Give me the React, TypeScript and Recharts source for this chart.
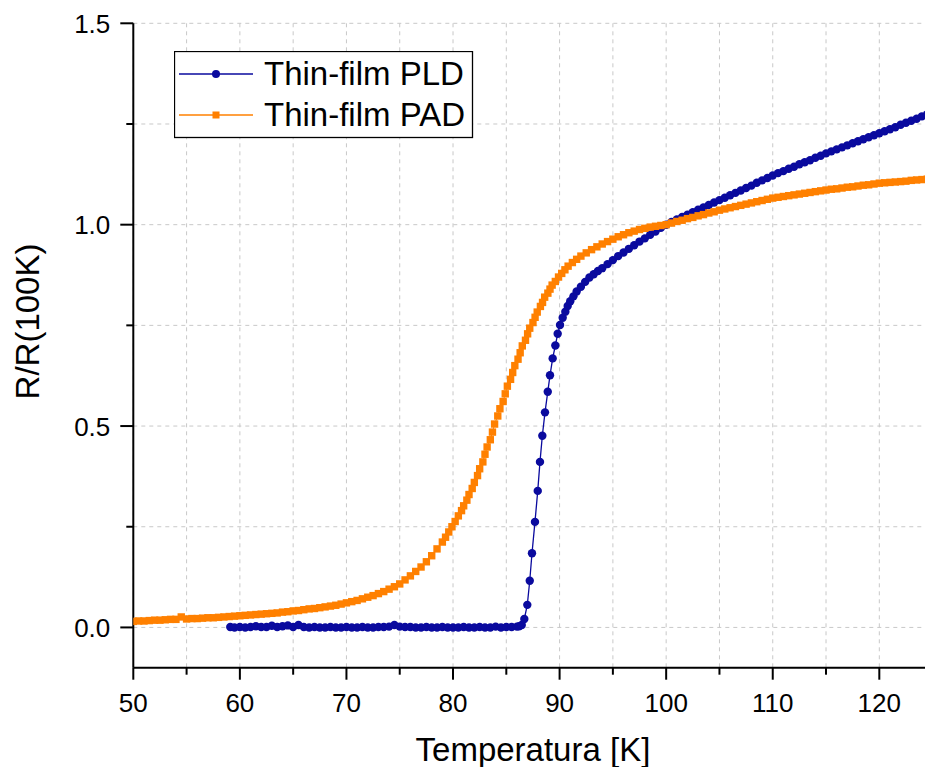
import React from 'react';
import { LineChart, Line, XAxis, YAxis, CartesianGrid, Legend } from 'recharts';

const FONT = '"Liberation Sans", Arial, sans-serif';
const PLD_COLOR = '#0a0a9e';
const PAD_COLOR = '#ff8000';

const seriesNames = ['Thin-film PLD', 'Thin-film PAD'];
const xTitle = 'Temperatura [K]';
const yTitle = 'R/R(100K)';
const xTicks = [50, 55, 60, 65, 70, 75, 80, 85, 90, 95, 100, 105, 110, 115, 120, 125];
const yTicks = [0, 0.25, 0.5, 0.75, 1.0, 1.25, 1.5];

// [temperature K, R/R(100K)]
const pldPoints: [number, number][] = [
  [59.1, 0.001], [59.5, 0.0], [60.0, 0.001], [60.5, 0.0], [61.0, 0.001], [61.5, 0.003], [62.0, 0.001],
  [62.5, 0.001], [63.0, 0.004], [63.5, 0.001], [64.0, 0.003], [64.5, 0.005], [65.0, 0.001], [65.5, 0.006],
  [66.0, 0.001], [66.5, 0.0], [67.0, 0.001], [67.5, 0.0], [68.0, 0.0], [68.5, 0.001], [69.0, 0.0],
  [69.5, 0.0], [70.0, 0.001], [70.5, 0.0], [71.0, 0.0], [71.5, 0.001], [72.0, 0.0], [72.5, 0.0],
  [73.0, 0.001], [73.5, 0.001], [74.0, 0.002], [74.5, 0.006], [75.0, 0.002], [75.5, 0.001], [76.0, 0.001],
  [76.5, 0.0], [77.0, 0.0], [77.5, 0.001], [78.0, 0.0], [78.5, 0.0], [79.0, 0.001], [79.5, 0.0],
  [80.0, 0.0], [80.5, 0.0], [81.0, 0.001], [81.5, 0.0], [82.0, 0.0], [82.5, 0.001], [83.0, 0.0],
  [83.5, 0.0], [84.0, 0.002], [84.5, 0.0], [85.0, 0.001], [85.5, 0.001], [86.0, 0.002], [86.2, 0.003],
  [86.45, 0.006], [86.69, 0.021], [86.97, 0.056], [87.2, 0.116], [87.41, 0.184], [87.69, 0.262],
  [87.95, 0.339], [88.16, 0.411], [88.38, 0.476], [88.63, 0.534], [88.89, 0.585], [89.1, 0.626],
  [89.35, 0.668], [89.6, 0.7], [89.82, 0.729], [90.04, 0.751], [90.29, 0.769], [90.54, 0.784],
  [90.76, 0.798], [91.0, 0.81], [91.3, 0.822], [91.6, 0.834], [92.0, 0.846], [92.4, 0.858],
  [92.8, 0.869], [93.2, 0.877], [93.6, 0.885], [94.0, 0.892], [94.5, 0.902], [95.0, 0.912],
  [95.5, 0.922], [96.0, 0.931], [96.5, 0.94], [97.0, 0.949], [97.5, 0.958], [98.0, 0.966],
  [98.5, 0.975], [99.0, 0.983], [99.5, 0.992], [100.0, 1.0], [100.5, 1.0065], [101.0, 1.013],
  [101.5, 1.019], [102.0, 1.025], [102.5, 1.031], [103.0, 1.037], [103.5, 1.043], [104.0, 1.049],
  [104.5, 1.055], [105.0, 1.061], [105.5, 1.067], [106.0, 1.073], [106.5, 1.079], [107.0, 1.085],
  [107.5, 1.091], [108.0, 1.097], [108.5, 1.104], [109.0, 1.11], [109.5, 1.116], [110.0, 1.122],
  [110.5, 1.128], [111.0, 1.133], [111.5, 1.139], [112.0, 1.144], [112.5, 1.15], [113.0, 1.155],
  [113.5, 1.16], [114.0, 1.166], [114.5, 1.171], [115.0, 1.177], [115.5, 1.182], [116.0, 1.187],
  [116.5, 1.192], [117.0, 1.197], [117.5, 1.202], [118.0, 1.207], [118.5, 1.212], [119.0, 1.217],
  [119.5, 1.222], [120.0, 1.227], [120.5, 1.232], [121.0, 1.237], [121.5, 1.242], [122.0, 1.248],
  [122.5, 1.253], [123.0, 1.258], [123.5, 1.263], [124.0, 1.269], [124.5, 1.274],
];

const padPoints: [number, number][] = [
  [50.0, 0.015], [50.5, 0.016], [51.0, 0.016], [51.5, 0.017], [52.0, 0.018], [52.5, 0.018], [53.0, 0.019],
  [53.5, 0.02], [54.0, 0.02], [54.5, 0.026], [55.0, 0.021], [55.5, 0.022], [56.0, 0.022], [56.5, 0.023],
  [57.0, 0.024], [57.5, 0.024], [58.0, 0.025], [58.5, 0.026], [59.0, 0.027], [59.5, 0.028], [60.0, 0.029],
  [60.5, 0.03], [61.0, 0.031], [61.5, 0.032], [62.0, 0.033], [62.5, 0.034], [63.0, 0.035], [63.5, 0.036],
  [64.0, 0.038], [64.5, 0.039], [65.0, 0.041], [65.5, 0.042], [66.0, 0.044], [66.5, 0.046], [67.0, 0.047],
  [67.5, 0.049], [68.0, 0.051], [68.5, 0.053], [69.0, 0.055], [69.5, 0.058], [70.0, 0.061], [70.5, 0.064],
  [71.0, 0.067], [71.5, 0.071], [72.0, 0.075], [72.5, 0.079], [73.0, 0.084], [73.5, 0.089], [74.0, 0.095],
  [74.5, 0.101], [75.0, 0.108], [75.5, 0.118], [76.0, 0.128], [76.5, 0.139], [77.0, 0.15], [77.5, 0.163],
  [78.0, 0.178], [78.5, 0.195], [79.0, 0.212], [79.3, 0.224], [79.6, 0.237], [79.9, 0.25], [80.2, 0.263],
  [80.5, 0.277], [80.8, 0.29], [81.0, 0.302], [81.3, 0.316], [81.5, 0.33], [81.8, 0.345], [82.0, 0.36],
  [82.3, 0.377], [82.5, 0.394], [82.8, 0.411], [83.0, 0.43], [83.2, 0.448], [83.5, 0.466], [83.7, 0.485],
  [83.9, 0.505], [84.2, 0.525], [84.4, 0.543], [84.7, 0.561], [84.9, 0.58], [85.1, 0.599], [85.4, 0.616],
  [85.6, 0.633], [85.8, 0.65], [86.1, 0.666], [86.3, 0.682], [86.5, 0.699], [86.8, 0.713], [87.0, 0.729],
  [87.2, 0.743], [87.5, 0.757], [87.7, 0.77], [87.9, 0.783], [88.2, 0.797], [88.4, 0.807], [88.6, 0.82],
  [88.9, 0.83], [89.1, 0.84], [89.3, 0.85], [89.6, 0.859], [89.9, 0.87], [90.2, 0.879], [90.5, 0.888],
  [90.8, 0.897], [91.2, 0.906], [91.6, 0.914], [92.0, 0.922], [92.5, 0.93], [93.0, 0.938], [93.5, 0.945],
  [94.0, 0.952], [94.5, 0.958], [95.0, 0.964], [95.5, 0.97], [96.0, 0.975], [96.5, 0.98], [97.0, 0.984],
  [97.5, 0.988], [98.0, 0.991], [98.5, 0.994], [99.0, 0.996], [99.5, 0.998], [100.0, 1.0], [100.5, 1.004],
  [101.0, 1.008], [101.5, 1.011], [102.0, 1.015], [102.5, 1.018], [103.0, 1.022], [103.5, 1.025],
  [104.0, 1.029], [104.5, 1.032], [105.0, 1.036], [105.5, 1.039], [106.0, 1.042], [106.5, 1.045],
  [107.0, 1.048], [107.5, 1.051], [108.0, 1.054], [108.5, 1.057], [109.0, 1.06], [109.5, 1.063],
  [110.0, 1.066], [110.5, 1.068], [111.0, 1.07], [111.5, 1.072], [112.0, 1.074], [112.5, 1.076],
  [113.0, 1.078], [113.5, 1.08], [114.0, 1.082], [114.5, 1.084], [115.0, 1.086], [115.5, 1.088],
  [116.0, 1.089], [116.5, 1.091], [117.0, 1.093], [117.5, 1.094], [118.0, 1.096], [118.5, 1.098],
  [119.0, 1.099], [119.5, 1.101], [120.0, 1.103], [120.5, 1.104], [121.0, 1.105], [121.5, 1.106],
  [122.0, 1.107], [122.5, 1.108], [123.0, 1.11], [123.5, 1.111], [124.0, 1.112], [124.5, 1.113],
];

const pldData = pldPoints.map(([t, r]) => ({ t, r }));
const padData = padPoints.map(([t, r]) => ({ t, r }));

const isMajorX = (v: number) => Math.abs(v % 10) < 1e-6;
const isMajorY = (v: number) => Math.abs(v * 2 - Math.round(v * 2)) < 1e-6;

const BottomTick = (props: any) => {
  const { x, y, payload } = props;
  const major = isMajorX(payload.value);
  return (
    <g>
      <line x1={x} y1={y} x2={x} y2={y + (major ? 12 : 7)} stroke="#000" strokeWidth={2} />
      {major && (
        <text x={x} y={y + 44} textAnchor="middle" fontSize={26} fontFamily={FONT} fill="#000">
          {payload.value}
        </text>
      )}
    </g>
  );
};

const TopTick = (props: any) => {
  const { x, y, payload } = props;
  const major = isMajorX(payload.value);
  return <line x1={x} y1={y} x2={x} y2={y + (major ? 13 : 7)} stroke="#000" strokeWidth={2} />;
};

const LeftTick = (props: any) => {
  const { x, y, payload } = props;
  const major = isMajorY(payload.value);
  return (
    <g>
      <line x1={x - (major ? 13 : 7)} y1={y} x2={x} y2={y} stroke="#000" strokeWidth={2} />
      {major && (
        <text x={x - 23} y={y + 9.5} textAnchor="end" fontSize={26} fontFamily={FONT} fill="#000">
          {Number(payload.value).toFixed(1)}
        </text>
      )}
    </g>
  );
};

const RightTick = (props: any) => {
  const { x, y, payload } = props;
  const major = isMajorY(payload.value);
  return <line x1={x - (major ? 13 : 7)} y1={y} x2={x} y2={y} stroke="#000" strokeWidth={2} />;
};

const SquareDot = (props: any) => {
  const { cx, cy, index } = props;
  if (cx == null || cy == null) return <g key={`s-${index}`} />;
  return <rect key={`s-${index}`} x={cx - 3.7} y={cy - 3.7} width={7.4} height={7.4} fill={PAD_COLOR} />;
};

const LegendBox = () => (
  <svg width={300} height={88} style={{ display: 'block' }}>
    <rect x={0.5} y={0.5} width={298} height={86} fill="#fff" stroke="#000" strokeWidth={1.3} />
    <line x1={5} y1={23} x2={79} y2={23} stroke={PLD_COLOR} strokeWidth={1.3} />
    <circle cx={42} cy={23} r={4} fill={PLD_COLOR} />
    <text x={90} y={34} fontSize={33} fontFamily={FONT} fill="#000">{seriesNames[0]}</text>
    <line x1={5} y1={64} x2={79} y2={64} stroke={PAD_COLOR} strokeWidth={1.3} />
    <rect x={38.5} y={60.5} width={7} height={7} fill={PAD_COLOR} />
    <text x={90} y={75} fontSize={33} fontFamily={FONT} fill="#000">{seriesNames[1]}</text>
  </svg>
);

const XTitle = (props: any) => {
  const vb = props.viewBox || {};
  return (
    <text x={vb.x + vb.width / 2} y={vb.y + 93} textAnchor="middle" fontSize={33} fontFamily={FONT} fill="#000">
      {xTitle}
    </text>
  );
};

const YTitle = () => (
  <text transform="translate(39, 321.5) rotate(-90)" x={0} y={0} textAnchor="middle" fontSize={33} fontFamily={FONT} fill="#000">
    {yTitle}
  </text>
);

export default function App() {
  return (
    <div style={{ position: 'absolute', left: 0, top: 0, width: 925, height: 767, overflow: 'hidden', background: '#fff' }}>
      <LineChart width={940} height={767} margin={{ top: 23.3, right: 7.4, bottom: 0, left: 0 }}>
        <CartesianGrid stroke="#c8c8c8" strokeDasharray="4 4" strokeWidth={1} />
        <XAxis
          dataKey="t"
          type="number"
          domain={[50, 125]}
          ticks={xTicks}
          interval={0}
          allowDataOverflow
          height={99.3}
          tickSize={0}
          tickMargin={0}
          tickLine={false}
          axisLine={{ stroke: '#000', strokeWidth: 2 }}
          tick={<BottomTick />}
          label={{ value: xTitle, content: <XTitle /> }}
        />
        <XAxis
          xAxisId="top"
          orientation="top"
          dataKey="t"
          type="number"
          domain={[50, 125]}
          ticks={xTicks}
          interval={0}
          allowDataOverflow
          height={0}
          tickSize={0}
          tickMargin={0}
          tickLine={false}
          axisLine={{ stroke: '#000', strokeWidth: 2 }}
          tick={<TopTick />}
        />
        <YAxis
          type="number"
          domain={[-0.1, 1.5]}
          ticks={yTicks}
          interval={0}
          allowDataOverflow
          width={133.3}
          tickSize={0}
          tickMargin={0}
          tickLine={false}
          axisLine={{ stroke: '#000', strokeWidth: 2 }}
          tick={<LeftTick />}
          label={{ value: yTitle, content: <YTitle /> }}
        />
        <YAxis
          yAxisId="right"
          orientation="right"
          type="number"
          domain={[-0.1, 1.5]}
          ticks={yTicks}
          interval={0}
          allowDataOverflow
          width={0}
          tickSize={0}
          tickMargin={0}
          tickLine={false}
          axisLine={{ stroke: '#000', strokeWidth: 2 }}
          tick={<RightTick />}
        />
        <Legend
          layout="horizontal"
          verticalAlign="middle"
          align="center"
          content={<LegendBox />}
          wrapperStyle={{ position: 'absolute', left: 174, top: 51, width: 300, height: 88, margin: 0, padding: 0 }}
        />
        <Line
          name={seriesNames[0]}
          data={pldData}
          dataKey="r"
          type="linear"
          stroke={PLD_COLOR}
          strokeWidth={1.3}
          dot={{ r: 4.2, fill: PLD_COLOR, stroke: PLD_COLOR, strokeWidth: 0 }}
          activeDot={false}
          isAnimationActive={false}
        />
        <Line
          name={seriesNames[1]}
          data={padData}
          dataKey="r"
          type="linear"
          stroke={PAD_COLOR}
          strokeWidth={1}
          dot={SquareDot}
          activeDot={false}
          isAnimationActive={false}
        />
      </LineChart>
    </div>
  );
}
